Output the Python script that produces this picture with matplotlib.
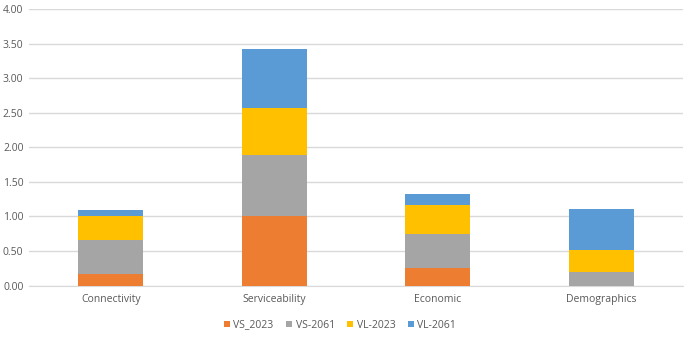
import numpy as np
import matplotlib
matplotlib.use("Agg")
import matplotlib.pyplot as plt

categories = ["Connectivity", "Serviceability", "Economic", "Demographics"]
vs_2023 = [0.17, 1.00, 0.25, 0.00]
vs_2061 = [0.49, 0.89, 0.49, 0.20]
vl_2023 = [0.35, 0.68, 0.42, 0.32]
vl_2061 = [0.08, 0.85, 0.16, 0.58]
series_names = ["VS_2023", "VS-2061", "VL-2023", "VL-2061"]
colors = ["#ED7D31", "#A5A5A5", "#FFC000", "#5B9BD5"]

plt.rcParams["font.family"] = ["Open Sans", "DejaVu Sans"]

fig = plt.figure(figsize=(6.85, 3.37), dpi=100)
ax = fig.add_axes([29 / 685, 1 - 285.5 / 337, 654 / 685, 276.5 / 337])

x = np.arange(len(categories))
bottom = np.zeros(len(categories))
for name, vals, c in zip(series_names, [vs_2023, vs_2061, vl_2023, vl_2061], colors):
    ax.bar(x, vals, 0.4, bottom=bottom, color=c, label=name, zorder=3)
    bottom += np.array(vals)

ax.set_xlim(-0.5, len(categories) - 0.5)
ax.set_ylim(0, 4.0)
ax.set_yticks(np.arange(0, 4.01, 0.5))
ax.set_yticklabels([f"{v:.2f}" for v in np.arange(0, 4.01, 0.5)])
ax.set_xticks(x)
ax.set_xticklabels(categories)
ax.grid(axis="y", color="#D9D9D9", linewidth=1, zorder=0)
for s in ["top", "right", "left"]:
    ax.spines[s].set_visible(False)
ax.spines["bottom"].set_color("#D9D9D9")
ax.tick_params(axis="both", length=0, labelsize=7.5, colors="#595959")
ax.tick_params(axis="y", pad=4)
ax.tick_params(axis="x", pad=6)

leg = fig.legend(loc="center", bbox_to_anchor=(340 / 685, 1 - 325 / 337), ncol=4,
                 frameon=False, fontsize=7.5, handlelength=0.6, handleheight=0.6,
                 handletextpad=0.3, columnspacing=1.2)
for t in leg.get_texts():
    t.set_color("#595959")

fig.savefig("out.png", dpi=100)
